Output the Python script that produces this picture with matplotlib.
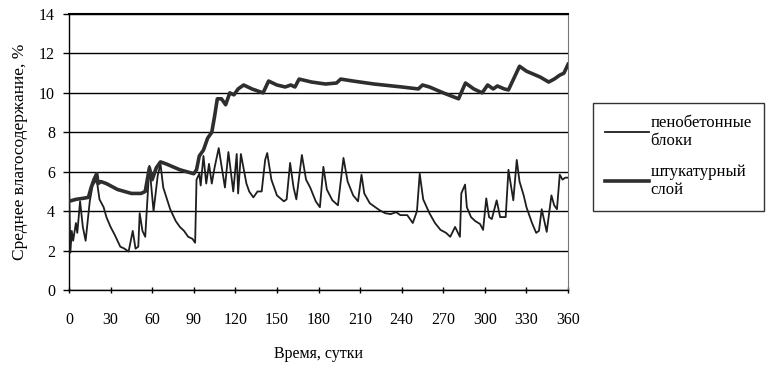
import matplotlib
matplotlib.use("Agg")
import matplotlib.pyplot as plt
from matplotlib.lines import Line2D

plt.rcParams['font.family'] = ['Liberation Serif', 'DejaVu Serif']

# --- data ---
# штукатурный слой (thick, upper curve)
plaster_days = [0, 5, 10, 14, 16, 18, 20, 21, 23, 27, 35, 45, 52, 55, 58, 60, 63, 66, 70, 80, 90,
                92, 94, 97, 100, 103, 105, 107, 110, 113, 116, 119, 122, 126, 132, 140, 144, 150,
                156, 160, 163, 166, 175, 185, 193, 196, 205, 220, 240, 252, 255, 260, 270, 281,
                286, 292, 298, 302, 306, 309, 314, 317, 320, 325, 330, 340, 346, 350, 354, 357, 360]
plaster_vals = [4.5, 4.6, 4.65, 4.7, 5.2, 5.6, 5.9, 5.4, 5.5, 5.4, 5.1, 4.9, 4.9, 5.0, 6.2, 5.6, 6.2,
                6.5, 6.4, 6.1, 5.9,
                6.1, 6.8, 7.1, 7.7, 8.0, 8.8, 9.7, 9.7, 9.4, 10.0, 9.9, 10.2, 10.4, 10.2, 10.0, 10.6,
                10.4, 10.3, 10.4, 10.3, 10.7, 10.55, 10.45, 10.5, 10.7, 10.6, 10.45, 10.3, 10.2,
                10.4, 10.3, 10.0, 9.7, 10.5, 10.2, 10.0, 10.4, 10.2, 10.35, 10.2, 10.15, 10.6,
                11.35, 11.1, 10.8, 10.55, 10.7, 10.9, 11.0, 11.45]

# пенобетонные блоки (thin, spiky lower curve)
block_days = [0, 1, 2, 3, 5, 6, 8, 10, 12, 15, 17, 20, 22, 25, 27, 30, 33, 37, 40, 43, 46, 48, 50,
              51, 53, 55, 58, 61, 64, 66, 68, 73, 77, 80, 83, 86, 89, 91, 92, 94, 95, 97, 99, 101,
              103, 105, 108, 112.5, 115, 118.5, 121, 122, 124, 128, 130, 133, 136, 139, 141.5,
              143, 146, 150, 155, 157, 159.5, 162, 164, 168, 171, 174, 178, 181, 183.5, 186, 190,
              194, 198, 201, 205, 208.5, 211, 213, 217, 221, 224, 228, 232, 236, 239, 244, 248,
              251, 253, 255.5, 260, 264, 268, 272, 275, 278.5, 282, 283, 285.7, 287, 290, 293,
              296.5, 298.7, 301, 303, 305, 308.5, 311, 315, 317, 320.5, 323, 325, 328, 330, 334,
              337, 339, 341, 344.6, 348, 350, 352, 354, 356, 358, 360]
block_vals = [5.4, 1.9, 3.0, 2.5, 3.4, 2.9, 4.5, 3.2, 2.5, 4.5, 5.3, 5.6, 4.6, 4.2, 3.7, 3.2, 2.8,
              2.2, 2.1, 1.95, 3.0, 2.1, 2.2, 3.9, 3.0, 2.7, 6.3, 4.0, 5.8, 6.4, 5.2, 4.1, 3.5, 3.2,
              3.0, 2.7, 2.6, 2.4, 5.6, 5.9, 5.3, 6.8, 5.4, 6.4, 5.4, 6.2, 7.2, 5.2, 7.0, 5.0, 6.9,
              4.9, 6.9, 5.4, 5.0, 4.7, 5.0, 5.0, 6.6, 6.95, 5.6, 4.8, 4.5, 4.6, 6.45, 5.2, 4.6,
              6.85, 5.6, 5.2, 4.5, 4.2, 6.25, 5.1, 4.55, 4.3, 6.7, 5.5, 4.8, 4.5, 5.85, 4.9, 4.4,
              4.2, 4.05, 3.9, 3.85, 3.95, 3.8, 3.8, 3.4, 4.0, 5.9, 4.6, 3.9, 3.4, 3.05, 2.9, 2.7,
              3.2, 2.7, 4.9, 5.35, 4.2, 3.7, 3.5, 3.35, 3.05, 4.65, 3.7, 3.6, 4.55, 3.7, 3.7, 6.1,
              4.55, 6.6, 5.5, 4.8, 4.2, 3.4, 2.9, 3.0, 4.1, 2.95, 4.8, 4.3, 4.1, 5.85, 5.6, 5.7,
              5.7]

x_ticks = list(range(0, 361, 30))
y_ticks = list(range(0, 15, 2))

fig = plt.figure(figsize=(7.69, 3.69), dpi=100)
ax = fig.add_axes([0.0897, 0.214, 0.649, 0.748])

line_color = '#1e1e1e'
ax.plot(block_days, block_vals, color=line_color, lw=1.3, zorder=3)
ax.plot(plaster_days, plaster_vals, color='#2e2e2e', lw=2.6, zorder=4)

ax.set_xlim(0, 360)
ax.set_ylim(0, 14)
ax.set_xticks(x_ticks)
ax.set_yticks(y_ticks)
ax.yaxis.grid(True, color='black', lw=1.0)
ax.set_axisbelow(True)
for s in ['left', 'bottom']:
    ax.spines[s].set_color('black')
    ax.spines[s].set_linewidth(1.0)
ax.spines['top'].set_linewidth(1.5)
ax.spines['right'].set_color('#777777')
ax.tick_params(axis='both', labelsize=11.5, colors='black', length=4, width=1)
ax.tick_params(axis='x', pad=14, direction='inout')
ax.tick_params(axis='y', pad=6)

ax.set_ylabel('Среднее влагосодержание, %', fontsize=12.5, labelpad=8)
ax.set_xlabel('Время, сутки', fontsize=11.5, labelpad=13)

handles = [Line2D([0], [0], color=line_color, lw=1.3),
           Line2D([0], [0], color='#2e2e2e', lw=2.6)]
labels = ['пенобетонные\nблоки', 'штукатурный\nслой']
leg = fig.legend(handles, labels, loc='upper left', bbox_to_anchor=(0.771, 0.722),
                 fontsize=12, frameon=True, fancybox=False, edgecolor='black',
                 handlelength=2.6, handletextpad=0.1, labelspacing=0.85, borderpad=0.75,
                 borderaxespad=0)
leg.get_frame().set_linewidth(1.0)

fig.savefig('out.png', dpi=100)
